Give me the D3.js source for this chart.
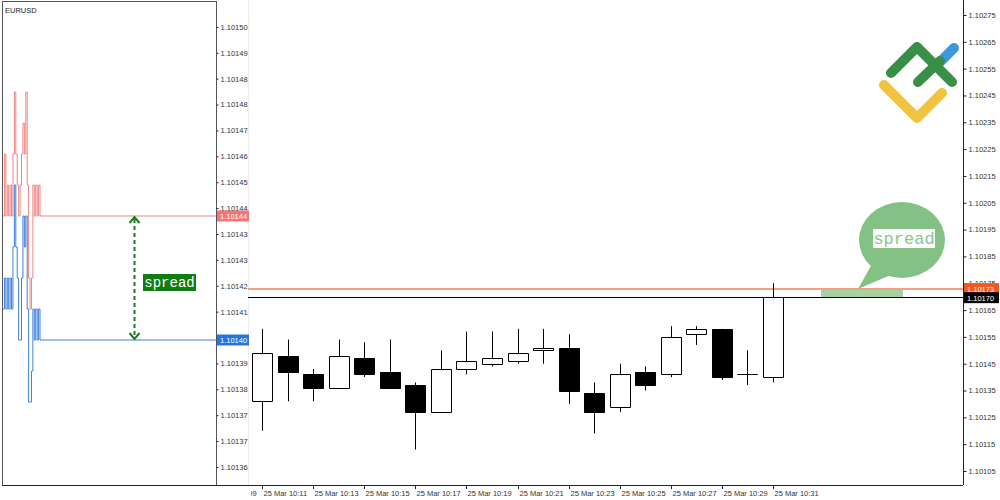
<!DOCTYPE html>
<html>
<head>
<meta charset="utf-8">
<script src="https://cdn.jsdelivr.net/npm/d3@7"></script>
<style>
  body { margin: 0; background: #fff; }
  svg { display: block; }
  text { font-family: "Liberation Sans", Arial, sans-serif; }
  text.mono { font-family: "Liberation Mono", "Courier New", monospace; }
</style>
</head>
<body>
<div id="chart"></div>
<script>
// ---- data ----
var candleTimes = ["10:11", "10:12", "10:13", "10:14", "10:15", "10:16", "10:17", "10:18", "10:19", "10:20",
                   "10:21", "10:22", "10:23", "10:24", "10:25", "10:26", "10:27", "10:28", "10:29", "10:30", "10:31"];
var opens  = [1.10131, 1.10148, 1.10141, 1.10136, 1.10147, 1.10142, 1.10137, 1.10127, 1.10143, 1.10145, 1.10146,
              1.10150, 1.10151, 1.10134, 1.10129, 1.10142, 1.10141, 1.10156, 1.10158, 1.10141, 1.10140];
var highs  = [1.10158, 1.10154, 1.10143, 1.10154, 1.10153, 1.10154, 1.10138, 1.10150, 1.10157, 1.10157, 1.10158,
              1.10158, 1.10156, 1.10138, 1.10145, 1.10144, 1.10159, 1.10159, 1.10158, 1.10150, 1.10175];
var lows   = [1.10120, 1.10131, 1.10131, 1.10136, 1.10140, 1.10136, 1.10113, 1.10127, 1.10141, 1.10144, 1.10145,
              1.10145, 1.10130, 1.10119, 1.10127, 1.10135, 1.10140, 1.10152, 1.10139, 1.10137, 1.10138];
var closes = [1.10149, 1.10142, 1.10136, 1.10148, 1.10141, 1.10136, 1.10127, 1.10143, 1.10146, 1.10147, 1.10149,
              1.10151, 1.10135, 1.10127, 1.10141, 1.10137, 1.10155, 1.10158, 1.10140, 1.10141, 1.10170];
var xLabelTimes = ["10:09", "10:11", "10:13", "10:15", "10:17", "10:19", "10:21", "10:23", "10:25", "10:27", "10:29", "10:31"];
var lastAsk = 1.10173;
var lastBid = 1.10170;

// tick chart (left panel)
var askTicks = [1.10144, 1.10146, 1.10144, 1.10145, 1.10144, 1.10145, 1.10144, 1.10146, 1.10148, 1.10146, 1.10145,
                1.10144, 1.10145, 1.10146, 1.10147, 1.10146, 1.10148, 1.10145, 1.10142, 1.10141, 1.10142,
                1.10145, 1.10144, 1.10145, 1.10144, 1.10145, 1.10144];
var bidTicks = [1.10141, 1.10142, 1.10141, 1.10142, 1.10141, 1.10142, 1.10141, 1.10143, 1.10145, 1.10143, 1.10142,
                1.10140, 1.10140, 1.10142, 1.10144, 1.10143, 1.10144, 1.10141, 1.10138, 1.10138, 1.10139,
                1.10141, 1.10140, 1.10141, 1.10140, 1.10141, 1.10140];
var leftTickLabels = ["1.10150", "1.10149", "1.10148", "1.10148", "1.10147", "1.10146", "1.10145", "1.10144", "1.10143",
                      "1.10143", "1.10142", "1.10141", "", "1.10139", "1.10138", "1.10137", "1.10137", "1.10136"];
var rightTickLabels = ["1.10275", "1.10265", "1.10255", "1.10245", "1.10235", "1.10225", "1.10215", "1.10205", "1.10195",
                       "1.10185", "1.10175", "1.10165", "1.10155", "1.10145", "1.10135", "1.10125", "1.10115", "1.10105"];

// ---- layout ----
var width = 1000, height = 500;
var leftPanel = { x0: 2, x1: 216, y0: 1, y1: 485 };
var main = { x0: 248, x1: 963, y1: 485 };

var svg = d3.select("#chart").append("svg").attr("width", width).attr("height", height);

var parseT = function (s) { return d3.timeParse("%Y-%m-%d %H:%M")("2020-03-25 " + s); };
var fmtT = d3.timeFormat("%d %b %H:%M");

var x = d3.scaleTime().domain([parseT("10:11"), parseT("10:31")]).range([262, 773]);
var yR = d3.scaleLinear().domain([1.10105, 1.10275]).range([471, 15]);
var yL = d3.scaleLinear().domain([1.10140, 1.10144]).range([340, 216]);
var xTick = d3.scaleLinear().domain([0, askTicks.length - 1]).range([3, 40]);

var crisp = function (v) { return Math.round(v) + 0.5; };

// ---- frames ----
svg.append("rect")
    .attr("x", leftPanel.x0 + 0.5).attr("y", leftPanel.y0 + 0.5)
    .attr("width", leftPanel.x1 - leftPanel.x0).attr("height", leftPanel.y1 - leftPanel.y0)
    .attr("fill", "none").attr("stroke", "#555");
svg.append("line")
    .attr("x1", main.x0 + 0.5).attr("x2", main.x0 + 0.5).attr("y1", 0).attr("y2", main.y1)
    .attr("stroke", "#eee");
svg.append("line")
    .attr("x1", leftPanel.x0).attr("x2", main.x1).attr("y1", main.y1 + 0.5).attr("y2", main.y1 + 0.5)
    .attr("stroke", "#222");
svg.append("line")
    .attr("x1", main.x1 + 0.5).attr("x2", main.x1 + 0.5).attr("y1", 0).attr("y2", main.y1)
    .attr("stroke", "#222");

svg.append("text").attr("x", 5).attr("y", 13).attr("font-size", 7.5).attr("fill", "#222").text("EURUSD");

// ---- axes ----
var leftTickValues = d3.range(leftTickLabels.length).map(function (i) { return 1.101501 - i * 0.00000835; });
var gL = svg.append("g").attr("transform", "translate(" + (leftPanel.x1 + 0.5) + ",0)")
    .call(d3.axisRight(yL).tickValues(leftTickValues).tickSize(2).tickPadding(2)
        .tickFormat(function (d, i) { return leftTickLabels[i]; }));
var rightTickValues = rightTickLabels.map(Number);
var gR = svg.append("g").attr("transform", "translate(" + (main.x1 + 0.5) + ",0)")
    .call(d3.axisRight(yR).tickValues(rightTickValues).tickSize(3).tickPadding(2)
        .tickFormat(function (d, i) { return rightTickLabels[i]; }));
[gL, gR].forEach(function (g) {
    g.select(".domain").remove();
    g.selectAll("line").attr("stroke", "#222");
    g.selectAll("text").attr("font-size", 7.5).attr("fill", "#333");
});

// x axis labels, clipped to main area
svg.append("clipPath").attr("id", "xclip").append("rect")
    .attr("x", 251).attr("y", main.y1).attr("width", main.x1 - 251).attr("height", 15);
var gX = svg.append("g").attr("clip-path", "url(#xclip)");
var xl = gX.selectAll("g").data(xLabelTimes).enter().append("g")
    .attr("transform", function (d) { return "translate(" + crisp(x(parseT(d))) + "," + main.y1 + ")"; });
xl.append("line").attr("y1", 0).attr("y2", 4).attr("stroke", "#222");
xl.append("text").attr("x", 1).attr("y", 11).attr("font-size", 7.5).attr("fill", "#333")
    .text(function (d) { return fmtT(parseT(d)); });

// ---- left tick chart ----
function tickPath(vals) {
    var pts = vals.map(function (v, i) { return [xTick(i), yL(v)]; });
    pts.push([leftPanel.x1, yL(vals[vals.length - 1])]);
    return d3.line().curve(d3.curveStepAfter)(pts);
}
svg.append("path").attr("d", tickPath(askTicks)).attr("fill", "none").attr("stroke", "#f08585").attr("stroke-width", 1);
svg.append("path").attr("d", tickPath(bidTicks)).attr("fill", "none").attr("stroke", "#3f7fdc").attr("stroke-width", 1);

// spread arrow (left)
var ax = 134.5, aTop = yL(askTicks[askTicks.length - 1]) + 1, aBot = yL(bidTicks[bidTicks.length - 1]) - 1;
svg.append("line").attr("x1", ax).attr("x2", ax).attr("y1", aTop + 2).attr("y2", aBot - 2)
    .attr("stroke", "#1a7d1a").attr("stroke-width", 2).attr("stroke-dasharray", "4,3");
svg.append("path").attr("d", "M" + (ax - 5) + "," + (aTop + 6) + "L" + ax + "," + aTop + "L" + (ax + 5) + "," + (aTop + 6))
    .attr("fill", "none").attr("stroke", "#1a7d1a").attr("stroke-width", 2);
svg.append("path").attr("d", "M" + (ax - 5) + "," + (aBot - 6) + "L" + ax + "," + aBot + "L" + (ax + 5) + "," + (aBot - 6))
    .attr("fill", "none").attr("stroke", "#1a7d1a").attr("stroke-width", 2);
svg.append("rect").attr("x", 143).attr("y", 274).attr("width", 53).attr("height", 17).attr("fill", "#0f7d12");
svg.append("text").attr("class", "mono").attr("x", 169.5).attr("y", 287).attr("text-anchor", "middle")
    .attr("font-size", 14).attr("fill", "#fff").text("spread");

// ---- main chart: ask / bid lines ----
svg.append("line").attr("x1", main.x0).attr("x2", main.x1).attr("y1", Math.round(yR(lastAsk))).attr("y2", Math.round(yR(lastAsk)))
    .attr("stroke", "#f5a07c").attr("stroke-width", 2);
svg.append("line").attr("x1", main.x0).attr("x2", main.x1).attr("y1", crisp(yR(lastBid))).attr("y2", crisp(yR(lastBid)))
    .attr("stroke", "#000");

// spread zone + bubble
svg.append("rect").attr("x", 821).attr("y", Math.round(yR(lastAsk)) + 1).attr("width", 82)
    .attr("height", crisp(yR(lastBid)) - Math.round(yR(lastAsk)) - 1.5).attr("fill", "#a3d1a3");
svg.append("path").attr("d", "M872,264L858,289L893,274Z").attr("fill", "#84c184");
svg.append("ellipse").attr("cx", 902).attr("cy", 240).attr("rx", 43).attr("ry", 38).attr("fill", "#84c184");
svg.append("rect").attr("x", 873).attr("y", 229).attr("width", 62).attr("height", 19).attr("fill", "#fff");
svg.append("text").attr("class", "mono").attr("x", 904).attr("y", 244).attr("text-anchor", "middle")
    .attr("font-size", 17).attr("fill", "#8cc48c").text("spread");

// ---- candles ----
var candles = candleTimes.map(function (t, i) {
    return { t: parseT(t), o: opens[i], h: highs[i], l: lows[i], c: closes[i] };
});
var cg = svg.append("g").selectAll("g").data(candles).enter().append("g");
cg.append("line")
    .attr("x1", function (d) { return crisp(x(d.t)); }).attr("x2", function (d) { return crisp(x(d.t)); })
    .attr("y1", function (d) { return yR(d.h); }).attr("y2", function (d) { return yR(d.l); })
    .attr("stroke", "#000");
cg.append("path")
    .attr("d", function (d) {
        var cx = Math.round(x(d.t)), x0 = cx - 9.5, x1 = cx + 10.5;
        var y0 = crisp(yR(Math.max(d.o, d.c))), y1 = crisp(yR(Math.min(d.o, d.c)));
        return "M" + x0 + "," + y0 + "H" + x1 + "V" + y1 + "H" + x0 + "Z";
    })
    .attr("fill", function (d) { return d.c >= d.o ? "#fff" : "#000"; })
    .attr("stroke", "#000");

// ---- price highlight labels ----
function priceTag(axisX, y, w, fill, txt) {
    svg.append("rect").attr("x", axisX).attr("y", y - 5.5).attr("width", w).attr("height", 11).attr("fill", fill);
    svg.append("text").attr("x", axisX + 3).attr("y", y + 3).attr("font-size", 7.5).attr("fill", "#fff").text(txt);
}
priceTag(leftPanel.x1 + 1, yL(askTicks[askTicks.length - 1]), 32, "#f47575", d3.format(".5f")(askTicks[askTicks.length - 1]));
priceTag(leftPanel.x1 + 1, yL(bidTicks[bidTicks.length - 1]), 32, "#2675e0", d3.format(".5f")(bidTicks[bidTicks.length - 1]));
priceTag(main.x1 + 1, yR(lastAsk), 35, "#f2591f", d3.format(".5f")(lastAsk));
priceTag(main.x1 + 1, yR(lastBid) + 1, 35, "#000", d3.format(".5f")(lastBid));

// ---- logo ----
var logo = svg.append("g").attr("fill", "none").attr("stroke-linecap", "round").attr("stroke-linejoin", "round")
    .attr("stroke-width", 10);
logo.append("path").attr("d", "M884,85L917,118L942,93").attr("stroke", "#f0c43f");
logo.append("path").attr("d", "M938,64L954,48").attr("stroke", "#3d97dc");
logo.append("path").attr("d", "M891,73L917,47L952,82").attr("stroke", "#3a8f47");
logo.append("path").attr("d", "M918,82L940,61").attr("stroke", "#3a8f47");
</script>
</body>
</html>
